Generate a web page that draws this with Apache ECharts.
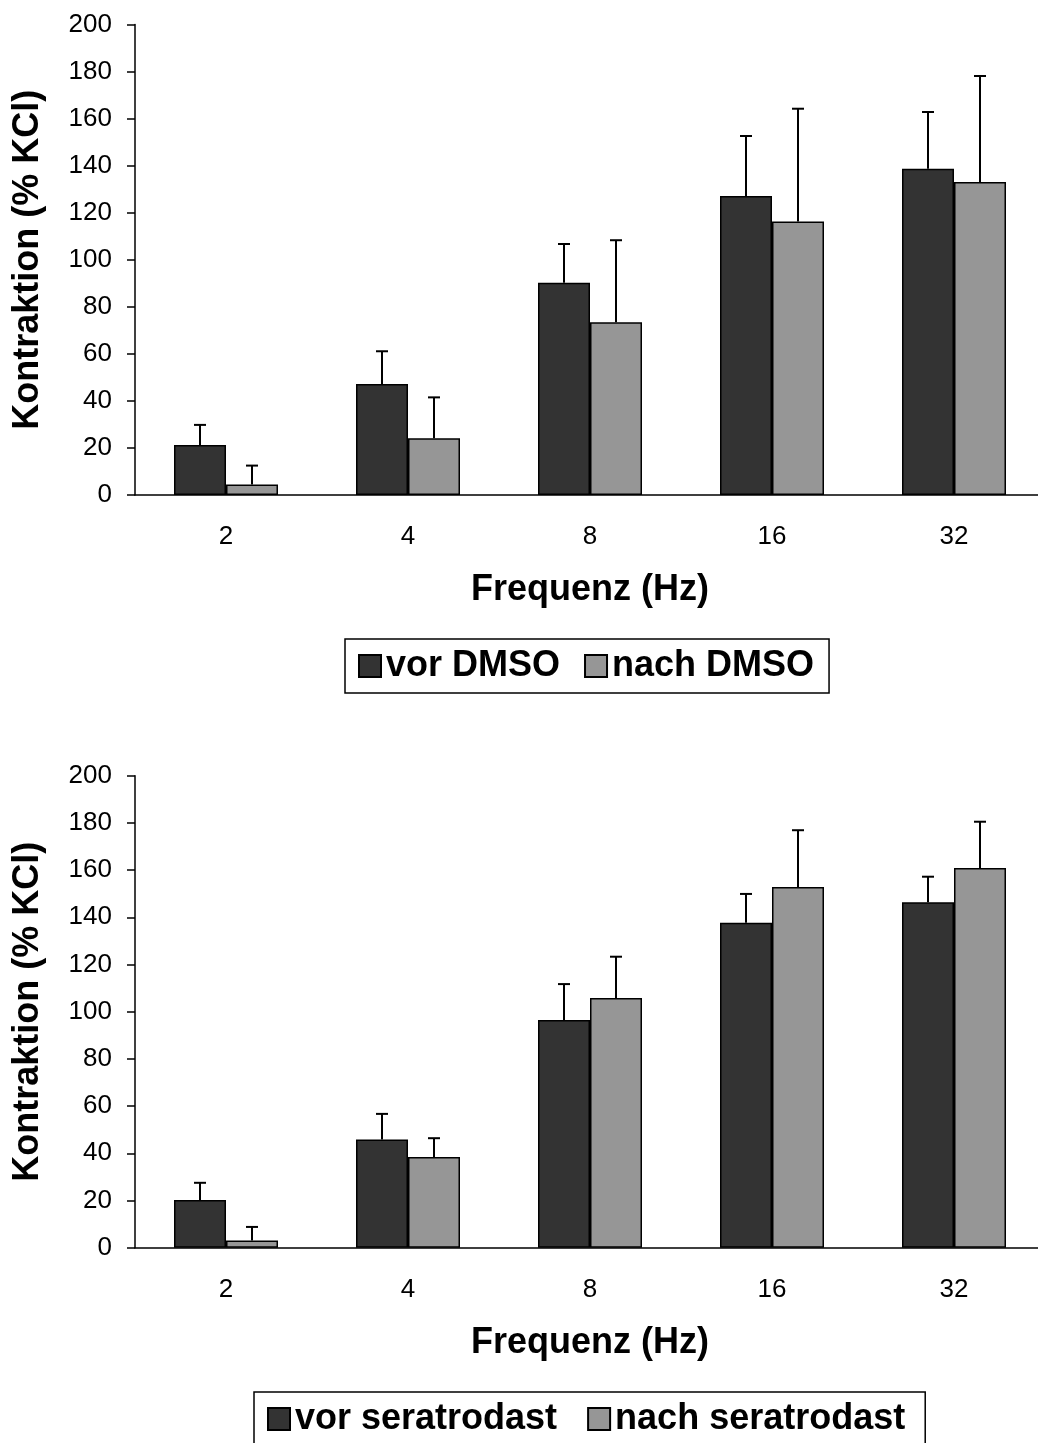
<!DOCTYPE html>
<html>
<head>
<meta charset="utf-8">
<script src="https://cdn.jsdelivr.net/npm/echarts@6/dist/echarts.min.js"></script>
<style>
html,body{margin:0;padding:0;background:#fff;overflow:hidden;width:1038px;height:1443px;}
#chart{width:1060px;height:1443px;}
</style>
</head>
<body>
<div id="chart"></div>
<script>
// ---- data ----
const categories = ['2', '4', '8', '16', '32'];
const yTicks = [0, 20, 40, 60, 80, 100, 120, 140, 160, 180, 200];

const seriesNames1 = ['vor DMSO', 'nach DMSO'];
const vorDMSO = [21.3, 47.2, 90.2, 127.1, 138.7];
const vorDMSOErr = [8.5, 13.9, 16.5, 25.5, 24.1];
const nachDMSO = [4.5, 24.1, 73.4, 116.3, 133.0];
const nachDMSOErr = [8.0, 17.4, 34.9, 47.9, 45.1];

const seriesNames2 = ['vor seratrodast', 'nach seratrodast'];
const vorSera = [20.2, 45.8, 96.5, 137.7, 146.4];
const vorSeraErr = [7.3, 10.9, 15.2, 12.2, 10.8];
const nachSera = [3.0, 38.4, 105.8, 152.8, 160.9];
const nachSeraErr = [5.8, 8.0, 17.5, 24.1, 19.6];

const yName = 'Kontraktion (% KCl)';
const xName = 'Frequenz (Hz)';

// ---- style ----
const FONT = '"Liberation Sans", Arial, sans-serif';
const DARK = '#333333';
const LIGHT = '#969696';
const BAR_W = 52;
const CAP = 12;

const chart = echarts.init(document.getElementById('chart'), null, {renderer: 'canvas'});

function xAxis(gi) {
  return {
    gridIndex: gi, type: 'category', data: categories,
    axisLine: {lineStyle: {color: '#000', width: 1.5}},
    axisTick: {length: 9, lineStyle: {color: '#000', width: 1.5}},
    axisLabel: {color: '#000', fontSize: 26, fontFamily: FONT, margin: 29},
    name: xName, nameLocation: 'middle', nameGap: 77,
    nameTextStyle: {color: '#000', fontSize: 36, fontWeight: 'bold', fontFamily: FONT}
  };
}
function yAxis(gi) {
  return {
    gridIndex: gi, type: 'value', min: 0, max: 200, interval: 20,
    axisLine: {show: true, lineStyle: {color: '#000', width: 1.5}},
    axisTick: {show: true, length: 8, lineStyle: {color: '#000', width: 1.5}},
    splitLine: {show: false},
    axisLabel: {color: '#000', fontSize: 26, fontFamily: FONT, margin: 23,
      formatter: v => (yTicks.indexOf(v) >= 0 ? String(v) : '')},
    name: yName, nameLocation: 'middle', nameGap: 89,
    nameTextStyle: {color: '#000', fontSize: 36, fontWeight: 'bold', fontFamily: FONT}
  };
}
function bar(name, data, color, gi) {
  return {
    name: name, type: 'bar', xAxisIndex: gi, yAxisIndex: gi,
    data: data, barWidth: BAR_W, barGap: '0%',
    itemStyle: {color: color, borderColor: '#000', borderWidth: 1.5},
    emphasis: {disabled: true}, z: 2
  };
}
function errBars(means, errs, side, gi) {
  return {
    type: 'custom', xAxisIndex: gi, yAxisIndex: gi, z: 3, silent: true,
    data: means.map((m, i) => [i, m, errs[i]]),
    encode: {x: 0, y: 1},
    renderItem: function (params, api) {
      const i = api.value(0), m = api.value(1), e = api.value(2);
      const p0 = api.coord([i, m]);
      const p1 = api.coord([i, m + e]);
      const x = p0[0] + side * BAR_W / 2;
      const st = {stroke: '#000', lineWidth: 2};
      return {
        type: 'group',
        children: [
          {type: 'line', shape: {x1: x, y1: p0[1], x2: x, y2: p1[1]}, style: st},
          {type: 'line', shape: {x1: x - CAP / 2, y1: p1[1], x2: x + CAP / 2, y2: p1[1]}, style: st}
        ]
      };
    }
  };
}
function legend(names, left, top, gap, padding) {
  return {
    data: names, left: left, top: top, orient: 'horizontal',
    itemWidth: 22, itemHeight: 22, itemGap: gap,
    padding: padding, borderColor: '#000', borderWidth: 1.5,
    icon: 'rect',
    textStyle: {color: '#000', fontSize: 36, fontWeight: 'bold', fontFamily: FONT, lineHeight: 36},
    selectedMode: false
  };
}

chart.setOption({
  animation: false,
  backgroundColor: '#fff',
  grid: [
    {left: 135, top: 24.5, width: 910, height: 470.5},
    {left: 135, top: 775.7, width: 910, height: 472}
  ],
  xAxis: [xAxis(0), xAxis(1)],
  yAxis: [yAxis(0), yAxis(1)],
  legend: [
    legend(seriesNames1, 345, 639, 24, [9, 15, 9, 13]),
    legend(seriesNames2, 254, 1392, 30, [9, 20, 9, 13])
  ],
  series: [
    bar(seriesNames1[0], vorDMSO, DARK, 0),
    bar(seriesNames1[1], nachDMSO, LIGHT, 0),
    errBars(vorDMSO, vorDMSOErr, -1, 0),
    errBars(nachDMSO, nachDMSOErr, 1, 0),
    bar(seriesNames2[0], vorSera, DARK, 1),
    bar(seriesNames2[1], nachSera, LIGHT, 1),
    errBars(vorSera, vorSeraErr, -1, 1),
    errBars(nachSera, nachSeraErr, 1, 1)
  ]
});
</script>
</body>
</html>
